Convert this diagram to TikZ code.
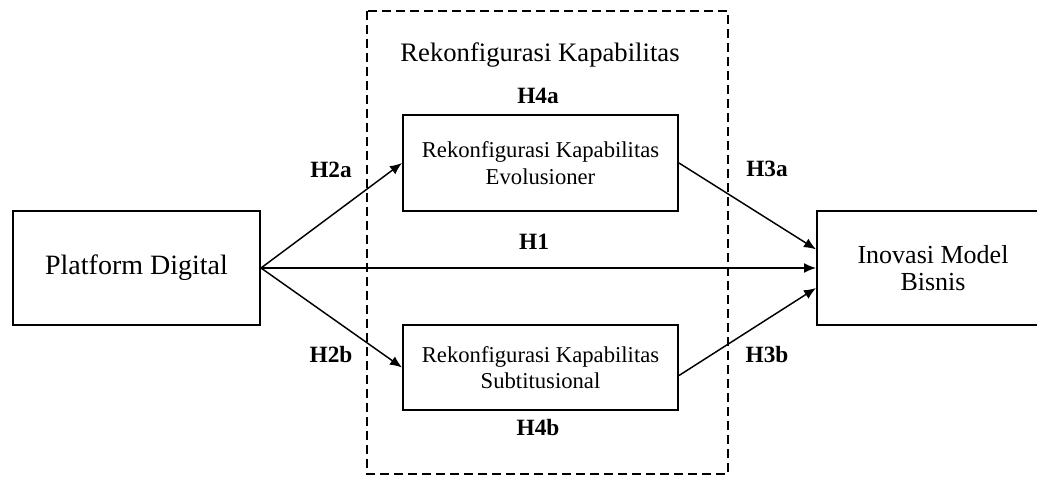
\documentclass[tikz,border=0pt]{standalone}
\usepackage{fontspec}
\setmainfont{Liberation Serif}
\usepackage{tikz}
\usetikzlibrary{arrows.meta}

\tikzset{box/.style={draw, line width=1.5pt, align=center, inner sep=0pt},
  hyp/.style={font=\fontsize{17.5}{20}\selectfont\bfseries, anchor=base},
  link/.style={->, line width=1.1pt}}

\begin{document}
\begin{tikzpicture}[x=0.75pt, y=-0.75pt, >={Latex[length=9pt,width=7.5pt]}]
\useasboundingbox (0,0) rectangle (1037,478);
\draw [dashed, line width=1.3pt, dash pattern=on 6.5pt off 4pt] (367,11) rectangle (728,474);
\node[anchor=base, font=\fontsize{20}{24}\selectfont] (judul) at (540,62) {Rekonfigurasi Kapabilitas};
\node[box, minimum width=185.25pt, minimum height=85.5pt, font=\fontsize{21}{24}\selectfont] (plat) at (136.5,268) {Platform Digital};
\node[box, minimum width=206.25pt, minimum height=72pt, font=\fontsize{17}{20}\selectfont] (evo) at (540.5,163) {Rekonfigurasi Kapabilitas\\Evolusioner};
\node[box, minimum width=206.25pt, minimum height=63.75pt, font=\fontsize{17}{20}\selectfont] (sub) at (540.5,367.5) {Rekonfigurasi Kapabilitas\\Subtitusional};
\node[box, minimum width=174pt, minimum height=85.5pt, font=\fontsize{19.5}{20.5}\selectfont] (inov) at (933,268) {Inovasi Model\\Bisnis};
% hubungan
\draw [link] (plat.east) -- (evo.west);
\draw [link] (plat.east) -- (sub.west);
\draw [link] (plat.east) -- (inov.west);
\draw [link] (evo.east) -- ([yshift=14pt]inov.west);
\draw [link] ([yshift=-6pt]sub.east) -- ([yshift=-15pt]inov.west);
% label hipotesis
\node[hyp] (h1) at (534,249) {H1};
\node[hyp] (h2a) at (331,177) {H2a};
\node[hyp] (h2b) at (331,362) {H2b};
\node[hyp] (h3a) at (767,176) {H3a};
\node[hyp] (h3b) at (767,362) {H3b};
\node[hyp] (h4a) at (538,103) {H4a};
\node[hyp] (h4b) at (538,435) {H4b};
\end{tikzpicture}
\end{document}
